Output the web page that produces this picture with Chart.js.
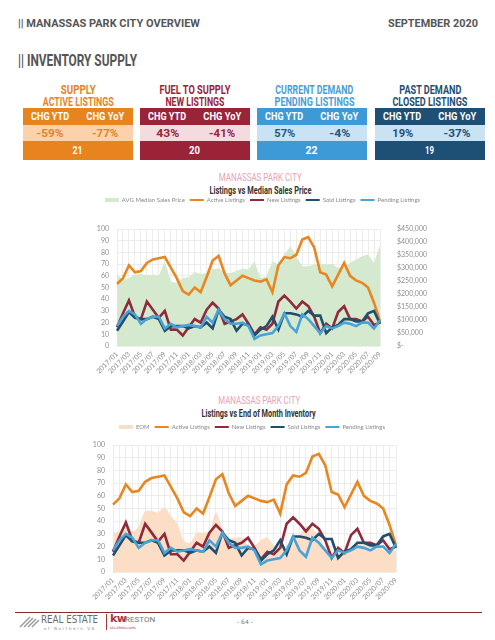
<!DOCTYPE html>
<html><head><meta charset="utf-8">
<script src="https://cdn.jsdelivr.net/npm/chart.js@4.4.0/dist/chart.umd.min.js"></script>
<style>
html,body{margin:0;padding:0;background:#fff;}
body{width:495px;height:640px;position:relative;overflow:hidden;font-family:"Roboto","DejaVu Sans",sans-serif;}
.abs{position:absolute;white-space:nowrap;}
.cond{font-family:"Roboto","DejaVu Sans",sans-serif;font-weight:bold;}
[data-w]{display:inline-block;white-space:nowrap;transform-origin:center center;}
.h1{left:18px;top:17px;font-size:11px;line-height:14px;color:#555;}
.h1 span{transform-origin:left center;}
.h1r{right:17px;top:17px;font-size:11px;line-height:14px;color:#555;}
.h1r span{transform-origin:right center;}
.h2{left:18px;top:52px;font-size:16px;line-height:18px;color:#555;}
.h2 span{transform-origin:left center;}
.kpi{position:absolute;top:84px;width:110px;}
.kpi .t{text-align:center;font-size:13px;line-height:12px;height:24px;white-space:nowrap;}
.kpi .t div{height:11.5px;}
.kpi .row{display:flex;}
.kpi .row div{flex:1;text-align:center;}
.kpi .hd{height:17px;line-height:17px;color:#fff;font-size:11.5px;}
.kpi .vl{height:16px;line-height:16px;font-size:11.5px;}
.kpi .tt{height:19px;line-height:19px;color:#fff;font-size:11.5px;text-align:center;}
.ttl{font-size:11px;line-height:12px;color:#e8a3b3;font-weight:normal;text-align:center;width:300px;}
.sub{font-size:11px;line-height:12px;color:#333;text-align:center;width:300px;}
</style>
</head><body>
<div class="abs cond h1"><span data-w="182">|| MANASSAS PARK CITY OVERVIEW</span></div>
<div class="abs cond h1r"><span data-w="90">SEPTEMBER 2020</span></div>
<div class="abs cond h2"><span data-w="119">|| INVENTORY SUPPLY</span></div>

<div class="kpi cond" style="left:23px;">
  <div class="t" style="color:#e8841e;"><div><span data-w="35">SUPPLY</span></div><div><span data-w="71">ACTIVE LISTINGS</span></div></div>
  <div class="row hd" style="background:#e8841e;"><div><span data-w="38">CHG YTD</span></div><div><span data-w="38">CHG YoY</span></div></div>
  <div class="row vl" style="background:#fbd2ab;color:#e28227;"><div><span data-w="27">-59%</span></div><div><span data-w="26">-77%</span></div></div>
  <div class="tt" style="background:#e8841e;"><span data-w="10">21</span></div>
</div>
<div class="kpi cond" style="left:140px;">
  <div class="t" style="color:#9b2338;"><div><span data-w="71">FUEL TO SUPPLY</span></div><div><span data-w="59">NEW LISTINGS</span></div></div>
  <div class="row hd" style="background:#9b2338;"><div><span data-w="38">CHG YTD</span></div><div><span data-w="38">CHG YoY</span></div></div>
  <div class="row vl" style="background:#f4dbe0;color:#9b2338;"><div><span data-w="23">43%</span></div><div><span data-w="26">-41%</span></div></div>
  <div class="tt" style="background:#9b2338;"><span data-w="11">20</span></div>
</div>
<div class="kpi cond" style="left:257px;">
  <div class="t" style="color:#4a9fd8;"><div><span data-w="78">CURRENT DEMAND</span></div><div><span data-w="80">PENDING LISTINGS</span></div></div>
  <div class="row hd" style="background:#3d9ad6;"><div><span data-w="38">CHG YTD</span></div><div><span data-w="38">CHG YoY</span></div></div>
  <div class="row vl" style="background:#c9e2f4;color:#24587f;"><div><span data-w="21">57%</span></div><div><span data-w="21">-4%</span></div></div>
  <div class="tt" style="background:#3d9ad6;"><span data-w="12">22</span></div>
</div>
<div class="kpi cond" style="left:375px;">
  <div class="t" style="color:#1e4f74;"><div><span data-w="62">PAST DEMAND</span></div><div><span data-w="75">CLOSED LISTINGS</span></div></div>
  <div class="row hd" style="background:#1e4f74;"><div><span data-w="38">CHG YTD</span></div><div><span data-w="38">CHG YoY</span></div></div>
  <div class="row vl" style="background:#c9e2f4;color:#1e4f74;"><div><span data-w="21">19%</span></div><div><span data-w="27">-37%</span></div></div>
  <div class="tt" style="background:#1e4f74;"><span data-w="9">19</span></div>
</div>

<div class="abs cond ttl" style="left:110px;top:172px;"><span data-w="83">MANASSAS PARK CITY</span></div>
<div class="abs cond sub" style="left:110px;top:185px;"><span data-w="102">Listings vs Median Sales Price</span></div>
<canvas id="c1" width="495" height="188" class="abs" style="left:0;top:192px;"></canvas>

<div class="abs cond ttl" style="left:109px;top:395px;"><span data-w="82">MANASSAS PARK CITY</span></div>
<div class="abs cond sub" style="left:109px;top:408px;"><span data-w="114">Listings vs End of Month Inventory</span></div>
<canvas id="c2" width="495" height="181" class="abs" style="left:0;top:419px;"></canvas>

<div class="abs" style="left:15px;top:612px;width:467px;height:1px;background:#8b2a35;"></div>
<svg class="abs" style="left:18px;top:615px;" width="22" height="14">
  <g stroke="#9a9a9a" stroke-width="1.4"><line x1="2" y1="12" x2="12" y2="2"/><line x1="6" y1="12" x2="15" y2="3"/><line x1="10" y1="12" x2="18" y2="4"/><line x1="14" y1="12" x2="21" y2="5"/></g>
</svg>
<div class="abs" style="left:41px;top:614px;font-family:'DejaVu Sans',sans-serif;font-size:10px;line-height:12px;color:#6d6d6d;"><span data-w="57" style="transform-origin:left center;">REAL ESTATE</span></div>
<div class="abs" style="left:44px;top:626px;font-family:'DejaVu Sans',sans-serif;font-size:4px;letter-spacing:1.6px;color:#888;">of Northern VA</div>
<div class="abs" style="left:106px;top:614px;width:1px;height:16px;background:#b0323e;"></div>
<div class="abs" style="left:110px;top:612px;font-family:'DejaVu Sans',sans-serif;font-size:11px;font-weight:bold;color:#b0323e;letter-spacing:-0.5px;">kw</div>
<div class="abs cond" style="left:125px;top:615px;font-size:8px;font-weight:normal;color:#777;">RESTON</div>
<div class="abs" style="left:110px;top:626px;font-family:'DejaVu Sans',sans-serif;font-size:3px;color:#b0323e;">KELLERWILLIAMS</div>
<div class="abs" style="left:237px;top:618px;font-family:'DejaVu Sans',sans-serif;font-size:6px;color:#777;">- 64 -</div>

<script>
document.querySelectorAll('[data-w]').forEach(el=>{
  const w = el.getBoundingClientRect().width;
  if (w > 0) el.style.transform = 'scaleX(' + (parseFloat(el.dataset.w)/w) + ')';
});

const months = ['2017/01','2017/02','2017/03','2017/04','2017/05','2017/06','2017/07','2017/08','2017/09','2017/10','2017/11','2017/12',
'2018/01','2018/02','2018/03','2018/04','2018/05','2018/06','2018/07','2018/08','2018/09','2018/10','2018/11','2018/12',
'2019/01','2019/02','2019/03','2019/04','2019/05','2019/06','2019/07','2019/08','2019/09','2019/10','2019/11','2019/12',
'2020/01','2020/02','2020/03','2020/04','2020/05','2020/06','2020/07','2020/08','2020/09'];
const activeListings  = [53,58,69,63,64,71,74,75,76,67,58,47,44,50,46,59,73,77,62,52,56,60,58,56,55,57,46,69,76,75,78,91,93,84,63,61,51,61,71,60,56,54,50,37,21];
const newListings     = [16,28,39,25,23,38,31,24,30,14,14,9,16,23,20,31,37,32,19,21,23,27,19,10,16,14,19,38,43,38,32,38,34,25,11,19,15,29,34,23,23,21,25,18,20];
const soldListings    = [13,21,29,24,23,23,25,23,13,17,17,17,15,17,16,20,15,31,25,23,13,19,18,9,14,17,25,14,28,28,27,25,30,26,26,11,16,18,23,23,21,21,28,30,19];
const pendingListings = [17,25,30,27,19,23,25,25,15,19,16,17,18,17,16,25,20,31,23,19,19,20,17,6,9,10,11,17,28,17,12,27,23,17,11,17,15,17,20,19,17,20,20,15,22];
const eomInventory    = [31,32,38,32,36,48,48,47,51,44,38,25,23,31,31,32,47,34,27,27,27,21,21,25,27,21,19,21,25,29,36,33,29,19,16,17,16,19,21,24,23,21,17,16,17];
const medianPrice     = [275000,255000,262000,275000,277000,271000,275000,271000,326000,249000,242000,262000,264000,285000,277000,281000,294000,300000,281000,281000,288000,298000,294000,326000,262000,268000,326000,313000,352000,384000,345000,307000,307000,313000,316000,313000,316000,300000,307000,320000,333000,345000,352000,320000,388000];

const C = {active:'#e8861f', nw:'#8e2a3c', sold:'#1f4e6e', pending:'#4aa3d6', green:'#d5e9cf', peach:'#fcdec6'};
const tickFont = {family:'Lato, "Open Sans", sans-serif', size:7};
const gridColor = '#e9e9e9';

function legendSpacer(h){
  return {id:'legendSpacer', beforeInit(chart){
    const fit = chart.legend.fit;
    chart.legend.fit = function(){ fit.call(this); this.height = h; };
  }};
}
function legendOpts(){
  return {
    display:true, position:'top', align:'center',
    labels:{
      usePointStyle:true, pointStyle:'line', pointStyleWidth:14, boxHeight:6, padding:5,
      color:'#8a8a8a', font:{family:'Lato, "Open Sans", sans-serif', size:6},
      sort:(a,b)=>a.datasetIndex-b.datasetIndex,
      generateLabels(chart){
        const items = Chart.defaults.plugins.legend.labels.generateLabels(chart);
        items.forEach(it=>{
          const ds = chart.data.datasets[it.datasetIndex];
          it.pointStyle = 'line';
          if (ds.fill) { it.strokeStyle = ds.backgroundColor; it.lineWidth = 4; }
          else { it.strokeStyle = ds.borderColor; it.lineWidth = 2; }
        });
        return items;
      }
    }
  };
}
function lineDs(label, data, color, order){
  return {label, data, borderColor:color, backgroundColor:color, borderWidth:2.6, pointRadius:0, tension:0, fill:false, yAxisID:'y', order};
}
function xScale(h){
  return {type:'category', offset:false,
    grid:{color:gridColor, lineWidth:0.8, drawTicks:false}, border:{display:false},
    ticks:{autoSkip:false, minRotation:45, maxRotation:45, padding:4, color:'#8f8f8f', font:tickFont,
      callback:(v,i)=> i%2===0 ? months[i] : ''},
    afterFit(s){ s.height = h; }};
}
function yScale(w){
  return {position:'left', min:0, max:100,
    grid:{color:gridColor, lineWidth:0.8, drawTicks:false}, border:{display:false},
    ticks:{stepSize:5, padding:8, color:'#8f8f8f', font:tickFont, callback:v=> v%10===0 ? v : ''},
    afterFit(s){ s.width = w; }};
}

new Chart(document.getElementById('c1'), {
  type:'line',
  data:{labels:months, datasets:[
    {label:'AVG Median Sales Price', data:medianPrice, yAxisID:'y1', fill:'origin', backgroundColor:C.green, borderColor:C.green, borderWidth:0, pointRadius:0, tension:0, order:10},
    lineDs('Active Listings', activeListings, C.active, 4),
    lineDs('New Listings', newListings, C.nw, 3),
    lineDs('Sold Listings', soldListings, C.sold, 2),
    lineDs('Pending Listings', pendingListings, C.pending, 1)
  ]},
  options:{
    responsive:false, animation:false, devicePixelRatio:1,
    layout:{padding:{left:30, right:0, top:0, bottom:0}},
    plugins:{legend:legendOpts(), tooltip:{enabled:false}},
    scales:{
      x:xScale(34),
      y:yScale(87),
      y1:{position:'right', min:0, max:450000,
        grid:{display:false}, border:{display:false},
        ticks:{stepSize:50000, padding:9, color:'#8f8f8f', font:tickFont,
          callback:v=> v===0 ? '$-' : '$' + v.toLocaleString('en-US')},
        afterFit(s){ s.width = 115; }}
    }
  },
  plugins:[legendSpacer(37)]
});

new Chart(document.getElementById('c2'), {
  type:'line',
  data:{labels:months, datasets:[
    {label:'EOM', data:eomInventory, yAxisID:'y', fill:'origin', backgroundColor:C.peach, borderColor:C.peach, borderWidth:0, pointRadius:0, tension:0.3, order:10},
    lineDs('Active Listings', activeListings, C.active, 4),
    lineDs('New Listings', newListings, C.nw, 3),
    lineDs('Sold Listings', soldListings, C.sold, 2),
    lineDs('Pending Listings', pendingListings, C.pending, 1)
  ]},
  options:{
    responsive:false, animation:false, devicePixelRatio:1,
    layout:{padding:{left:9, right:0, top:0, bottom:0}},
    plugins:{legend:legendOpts(), tooltip:{enabled:false}},
    scales:{
      x:xScale(28),
      y:yScale(104),
      y2:{position:'right', display:true, min:0, max:1,
        grid:{display:false}, border:{display:false}, ticks:{display:false},
        afterFit(s){ s.width = 99; }}
    }
  },
  plugins:[legendSpacer(26)]
});
</script>
</body></html>
